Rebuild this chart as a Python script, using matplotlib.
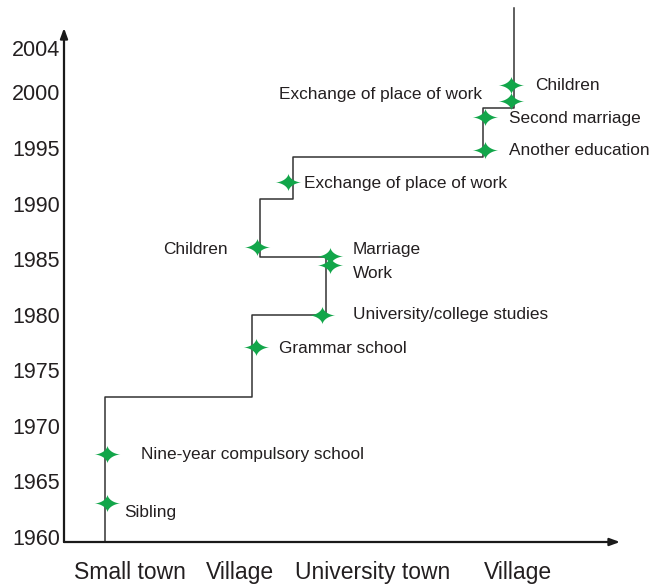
import matplotlib
matplotlib.use("Agg")
import matplotlib.pyplot as plt
from matplotlib.path import Path
import numpy as np

plt.rcParams['font.family'] = ['Liberation Sans', 'DejaVu Sans']

# ---- data ----
places = ["Small town", "Village", "University town", "Village"]
place_pos = [66, 176, 309, 454]

path_x = [41, 41, 188, 188, 262, 262, 196, 196, 229, 229, 419, 419, 450, 450]
path_y = [1959.55, 1972.6, 1972.6, 1980.0, 1980.0, 1985.2, 1985.2, 1990.4,
          1990.4, 1994.2, 1994.2, 1998.6, 1998.6, 2007.6]

events = ["Sibling", "Nine-year compulsory school", "Grammar school",
          "University/college studies", "Marriage", "Work", "Children",
          "Exchange of place of work", "Another education", "Second marriage",
          "Children", "Exchange of place of work"]
event_x = [43, 43, 192, 258, 266, 266, 193, 224, 421, 421, 447, 447]
event_year = [1963.1, 1967.5, 1977.1, 1980.0, 1985.3, 1984.5, 1986.1, 1991.9,
              1994.8, 1997.8, 2000.7, 1999.2]

year_ticks = [1960, 1965, 1970, 1975, 1980, 1985, 1990, 1995, 2000, 2004]

# label layout: (x, y, ha)
label_layout = [(60, 1962.2, 'left'), (77, 1967.45, 'left'), (215, 1977.0, 'left'),
                (289, 1980.05, 'left'), (289, 1985.9, 'left'), (289, 1983.75, 'left'),
                (164, 1985.9, 'right'), (240, 1991.85, 'left'), (445, 1994.8, 'left'),
                (445, 1997.7, 'left'), (471, 2000.65, 'left'), (418, 1999.85, 'right')]

W, H = 651, 587
fig = plt.figure(figsize=(W / 100, H / 100), dpi=100)
ax_left, ax_right, ax_top, ax_bottom = 64, 620, 28, 542
ax = fig.add_axes([ax_left / W, (H - ax_bottom) / H, (ax_right - ax_left) / W,
                   (ax_bottom - ax_top) / H])
ax.set_xlim(0, ax_right - ax_left)
ax.set_ylim(1959.55, 2005.8)
for s in ax.spines.values():
    s.set_visible(False)

# axes with arrows
ax.annotate('', xy=(0, 1), xytext=(0, 0), xycoords='axes fraction',
            arrowprops=dict(arrowstyle='-|>,head_length=0.6,head_width=0.22',
                            color='#1a1a1a', lw=1.6, shrinkA=0, shrinkB=0))
ax.annotate('', xy=(1, 0), xytext=(0, 0), xycoords='axes fraction',
            arrowprops=dict(arrowstyle='-|>,head_length=0.6,head_width=0.22',
                            color='#1a1a1a', lw=1.6, shrinkA=0, shrinkB=0))

ax.set_yticks(year_ticks)
ax.set_yticklabels([str(y) for y in year_ticks])
ax.set_xticks(place_pos)
ax.set_xticklabels(places)
ax.tick_params(axis='both', length=0, colors='#231f20')
ax.tick_params(axis='y', pad=3, labelsize=15.5)
ax.tick_params(axis='x', pad=14, labelsize=16.5)

# life path
ax.plot(path_x, path_y, color='#333333', lw=1.1, clip_on=False, zorder=2)

# star marker
t = np.linspace(0, 2 * np.pi, 400)
sx = np.sign(np.cos(t)) * np.abs(np.cos(t)) ** 3.3
sy = np.sign(np.sin(t)) * np.abs(np.sin(t)) ** 3.3 * 0.68
star = Path(np.column_stack([sx, sy]))
ax.plot(event_x, event_year, linestyle='none', marker=star, markersize=19,
        color='#12a64a', markeredgewidth=0, clip_on=False, zorder=3)

for name, (lx, ly, ha) in zip(events, label_layout):
    ax.text(lx, ly, name, ha=ha, va='center', fontsize=12.4, color='#231f20')

fig.savefig('out.png', dpi=100)
